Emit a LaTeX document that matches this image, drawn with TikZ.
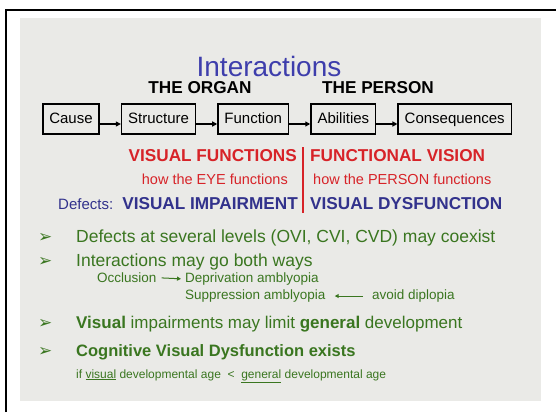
\documentclass[tikz,border=0pt]{standalone}
\usepackage{fontspec}
\setmainfont{Liberation Sans}
\newfontfamily\symfont{DejaVu Sans}
\usetikzlibrary{arrows.meta,positioning}
\definecolor{slidebg}{RGB}{234,234,231}
\definecolor{titleblue}{RGB}{62,62,172}
\definecolor{darkblue}{RGB}{50,50,140}
\definecolor{slidered}{RGB}{215,35,40}
\definecolor{slidegreen}{RGB}{58,118,32}

\begin{document}
\begin{tikzpicture}[x=1pt, y=-1pt,
        box/.style={draw, line width=1.5pt, minimum height=30pt, inner xsep=6.5pt,
                text height=11pt, text depth=3pt, font=\fontsize{15}{15}\selectfont},
        link/.style={-{Triangle[length=5pt, width=5pt]}, line width=1.3pt},
        head/.style={inner sep=0pt, font=\bfseries\fontsize{17.2}{18}\selectfont},
        sub/.style={inner sep=0pt, text=slidered, font=\fontsize{14.5}{15}\selectfont},
        item/.style={inner sep=0pt, anchor=base west, text=slidegreen, font=\fontsize{17.5}{18}\selectfont},
        bullet/.style={inner sep=0pt, anchor=base west, text=slidegreen, font=\symfont\fontsize{17}{17}\selectfont},
        small/.style={inner sep=0pt, anchor=base west, text=slidegreen, font=\fontsize{13.5}{14}\selectfont},
        twig/.style={-{Triangle[length=4pt, width=4pt]}, slidegreen, line width=1pt}]
        \useasboundingbox (0, 0) rectangle (556, 412);
        \fill[slidebg] (20, 18) rectangle (541, 401);
        \draw[line width=2pt] (6, 412) -- (6, 10) -- (556, 10);

        \node[text=titleblue, font=\fontsize{28}{28}\selectfont] (title) at (269, 66) {Interactions};
        \node[head] (organ) at (200, 88) {THE ORGAN};
        \node[head] (person) at (378, 88) {THE PERSON};

        \node[box, anchor=west] (cause) at (42, 119) {Cause};
        \node[box, right=21pt of cause] (struct) {Structure};
        \node[box, right=21pt of struct] (func) {Function};
        \node[box, right=21pt of func] (abil) {Abilities};
        \node[box, right=21pt of abil] (conseq) {Consequences};
        \foreach \a/\b in {cause/struct, struct/func, func/abil, abil/conseq}
                \draw[link] ([yshift=-5pt]\a.east) -- ([yshift=-5pt]\b.west);

        \draw[slidered, line width=1.5pt] (303, 147) -- (303, 213);
        \node[head, text=slidered, anchor=base east] (visfunc) at (297, 161) {VISUAL FUNCTIONS};
        \node[head, text=slidered, anchor=base west] (funcvis) at (310, 161) {FUNCTIONAL VISION};
        \node[sub, anchor=base east] (eye) at (288, 184) {how the EYE functions};
        \node[sub, anchor=base west] (pers) at (313, 184) {how the PERSON functions};
        \node[inner sep=0pt, text=darkblue, anchor=base west, font=\fontsize{15}{16}\selectfont] (defects) at (58, 209) {Defects:};
        \node[head, text=darkblue, anchor=base east] (impair) at (298, 209) {VISUAL IMPAIRMENT};
        \node[head, text=darkblue, anchor=base west] (dysf) at (310, 209) {VISUAL DYSFUNCTION};

        \foreach \y/\n in {242/1, 266/2, 328/3, 356/4}
                \node[bullet] (b\n) at (38, \y) {➢};
        \node[item] (levels) at (76, 242) {Defects at several levels (OVI, CVI, CVD) may coexist};
        \node[item] (ways) at (76, 266) {Interactions may go both ways};
        \node[small] (occl) at (97, 282) {Occlusion};
        \node[small] (depr) at (185, 282) {Deprivation amblyopia};
        \node[small] (supp) at (185, 299) {Suppression amblyopia};
        \node[small] (avoid) at (372, 299) {avoid diplopia};
        \draw[twig, shorten <=5pt, shorten >=4pt] ([yshift=-0.5pt]occl.east) -- ([yshift=-0.5pt]depr.west);
        \draw[twig, shorten <=9pt, shorten >=9pt] ([yshift=-0.5pt]avoid.west) -- ([yshift=-0.5pt]supp.east);
        \node[item, font=\fontsize{17}{18}\selectfont] (limit) at (76, 328) {\textbf{Visual} impairments may limit \textbf{general} development};
        \node[item, font=\bfseries\fontsize{16.5}{18}\selectfont] (cvd) at (76, 356) {Cognitive Visual Dysfunction exists};
        \node[small, font=\fontsize{12}{13}\selectfont] (age) at (76, 378) {if \underline{visual} developmental age~~<~~\underline{general} developmental age};
\end{tikzpicture}
\end{document}
